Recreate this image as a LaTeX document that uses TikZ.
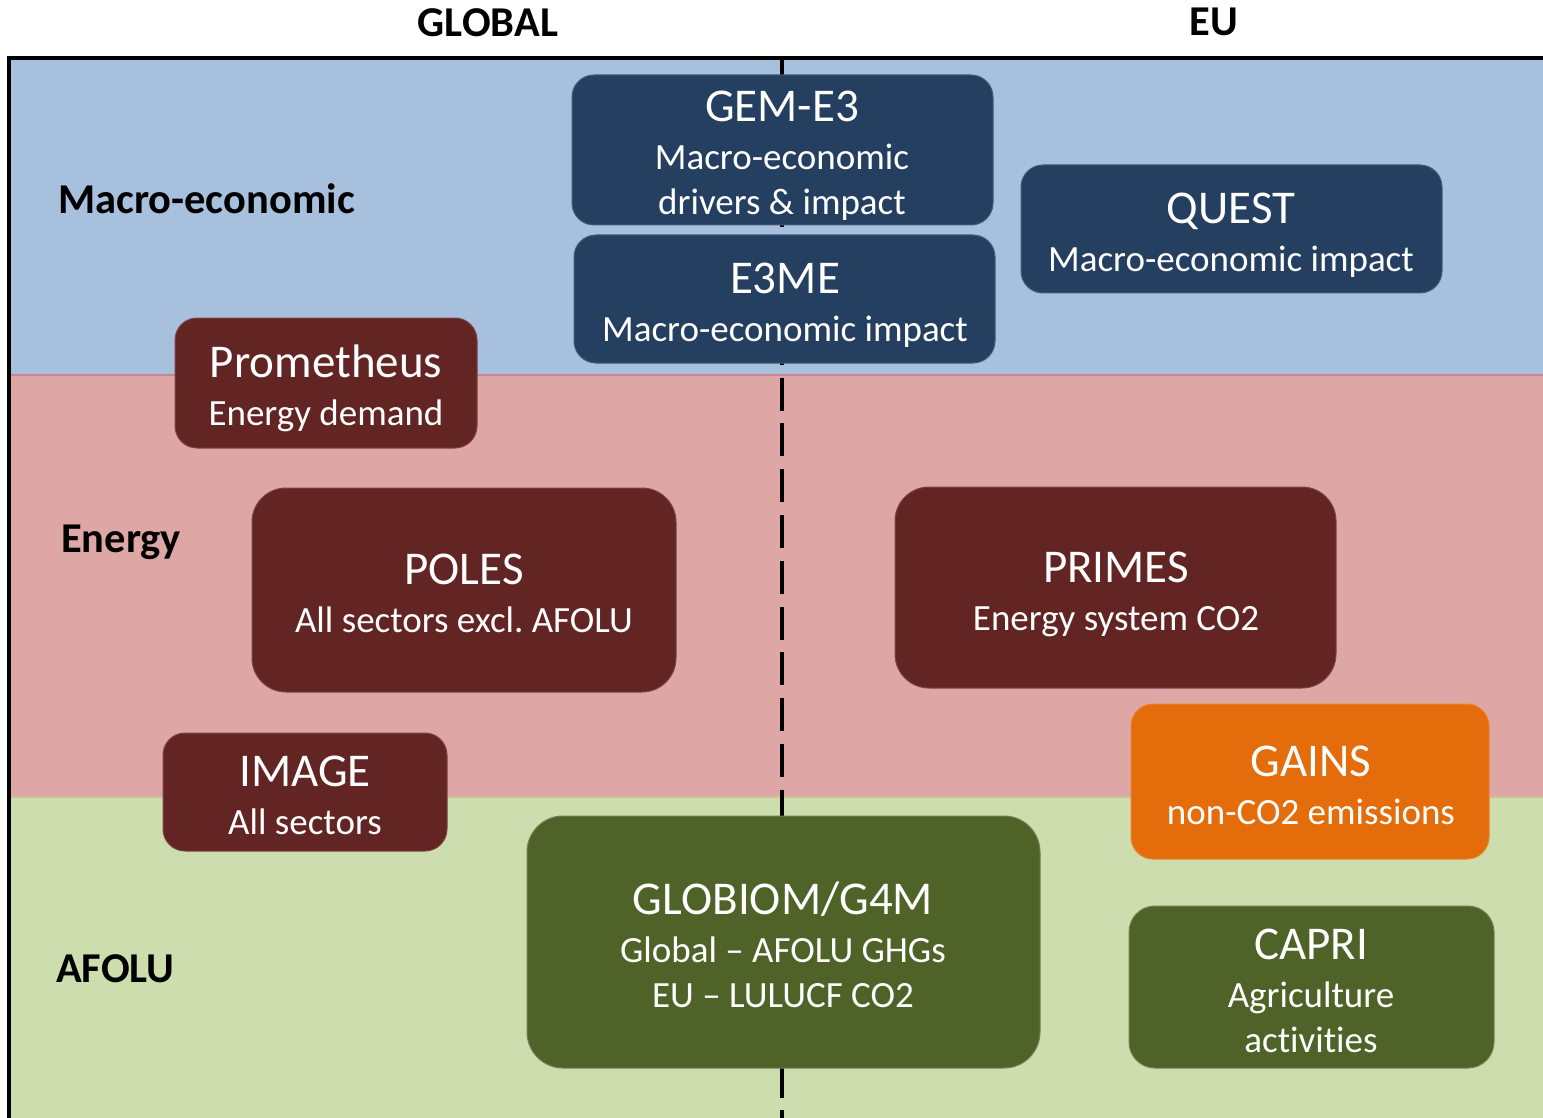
\documentclass[tikz,border=0pt]{standalone}
\usepackage{fontspec}
\setmainfont[Ligatures=NoCommon]{Carlito}
\definecolor{navy}{HTML}{243F60}
\definecolor{maroon}{HTML}{632523}
\definecolor{orangeb}{HTML}{E46C0A}
\definecolor{oliveb}{HTML}{4F6228}
\definecolor{bandblue}{HTML}{A7C0DE}
\definecolor{bandpink}{HTML}{DFA6A6}
\definecolor{bandgreen}{HTML}{CDDDAD}
\newcommand\titlef{\fontsize{47}{52}\selectfont}
\newcommand\subf{\fontsize{37}{45}\selectfont}
\newcommand\labf{\fontsize{42.5}{46}\selectfont\bfseries}
\newcommand\ttl[1]{{\titlef\rule{0pt}{35pt}#1}\\[3pt]}
\frenchspacing
\tikzset{
  modelbox/.style={rectangle, rounded corners=#1, inner sep=0pt, line width=1pt},
  modelbox/.default=22pt,
  navybox/.style={modelbox, fill=navy, draw=navy!85!white},
  maroonbox/.style={modelbox=#1, fill=maroon, draw=maroon!85!white},
  maroonbox/.default=22pt,
  orangebox/.style={modelbox, fill=orangeb, draw=orangeb!85!white},
  olivebox/.style={modelbox=#1, fill=oliveb, draw=oliveb!80!white},
  olivebox/.default=22pt,
  boxtext/.style={anchor=north, align=center, text=white, inner sep=0pt, font=\subf},
  rowlabel/.style={anchor=base west, inner sep=0pt, font=\labf},
  collabel/.style={anchor=base, inner sep=0pt, font=\labf},
}
\begin{document}
\begin{tikzpicture}[x=1pt,y=-1pt]
\useasboundingbox (0,0) rectangle (1543,1118);
\fill[white] (0,0) rectangle (1543,1118);
% bands
\fill[bandblue] (9,58) rectangle (1543,375);
\fill[bandpink] (9,375) rectangle (1543,797);
\fill[bandgreen] (9,797) rectangle (1543,1118);
\draw[line width=1.2pt, color={rgb,255:red,196;green,136;blue,146}] (9,375) -- (1543,375);
\draw[line width=1.2pt, color={rgb,255:red,205;green,190;blue,150}] (9,797) -- (1543,797);
% divider
\coordinate (dtop) at (782,57);
\coordinate (dbot) at (782,1118);
\draw[line width=4pt, dash pattern=on 33pt off 12.8pt] (dtop) -- (dbot);
% borders
\coordinate (bl) at (9,1118);
\coordinate (tl) at (9,58);
\coordinate (tr) at (1543,58);
\draw[line width=3.5pt] (bl) -- (tl) -- (tr);
% column labels
\node[collabel] (global) at (488,37) {GLOBAL};
\node[collabel] (eu) at (1214,36) {EU};
% row labels
\node[rowlabel] (lmacro) at (58,214) {Macro-economic};
\node[rowlabel] (lenergy) at (61,552) {Energy};
\node[rowlabel] (lafolu) at (56,982) {AFOLU};
% boxes
\node[navybox, minimum width=421pt, minimum height=150pt] (gem) at (782.5,150) {};
\node[boxtext] (gemt) at (782,86) {\ttl{GEM-E3}Macro-economic\\drivers \& impact};
\node[navybox, minimum width=421pt, minimum height=128pt] (e3me) at (784.5,299) {};
\node[boxtext] (e3met) at (785,258) {\ttl{E3ME}Macro-economic impact};
\node[navybox, minimum width=421pt, minimum height=128pt] (quest) at (1231.5,229) {};
\node[boxtext] (questt) at (1231,188) {\ttl{QUEST}Macro-economic impact};
\node[maroonbox, minimum width=302pt, minimum height=130pt] (prom) at (326,383) {};
\node[boxtext] (promt) at (326,342) {\ttl{Prometheus}Energy demand};
\node[maroonbox=34pt, minimum width=424pt, minimum height=204pt] (poles) at (464,590) {};
\node[boxtext] (polest) at (464,549) {\ttl{POLES}All sectors excl. AFOLU};
\node[maroonbox=34pt, minimum width=441pt, minimum height=201pt] (primes) at (1115.5,587.5) {};
\node[boxtext] (primest) at (1116,547) {\ttl{PRIMES}Energy system CO2};
\node[orangebox, minimum width=358pt, minimum height=155pt] (gains) at (1310,781.5) {};
\node[boxtext] (gainst) at (1311,741) {\ttl{GAINS}non-CO2 emissions};
\node[maroonbox, minimum width=284pt, minimum height=118pt] (image) at (305,792) {};
\node[boxtext] (imaget) at (305,751) {\ttl{IMAGE}All sectors};
\node[olivebox=36pt, minimum width=513pt, minimum height=252pt] (globiom) at (783.5,942) {};
\node[boxtext] (globiomt) at (783,879) {\ttl{GLOBIOM/G4M}Global -- AFOLU GHGs\\EU -- LULUCF CO2};
\node[olivebox=26pt, minimum width=365pt, minimum height=162pt] (capri) at (1311.5,987) {};
\node[boxtext] (caprit) at (1311,924) {\ttl{CAPRI}Agriculture\\activities};
\end{tikzpicture}
\end{document}
